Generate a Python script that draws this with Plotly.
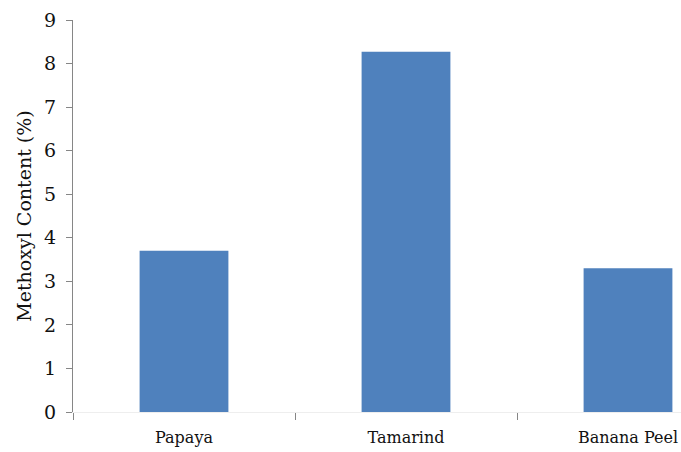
import plotly.graph_objects as go

# Methoxyl content of pectin by source
sources = ["Papaya", "Tamarind", "Banana Peel"]
methoxyl_pct = [3.70, 8.27, 3.30]
y_ticks = [0, 1, 2, 3, 4, 5, 6, 7, 8, 9]

serif = "DejaVu Serif"
axis_grey = "#868686"

fig = go.Figure(
    go.Bar(
        x=sources,
        y=methoxyl_pct,
        marker=dict(color="#4F81BD", line=dict(width=0)),
        width=0.4,
    )
)

fig.update_layout(
    width=681,
    height=452,
    margin=dict(l=73, r=0, t=20, b=40, autoexpand=False),
    paper_bgcolor="white",
    plot_bgcolor="white",
    showlegend=False,
    font=dict(family=serif, color="#111111"),
)

fig.update_xaxes(
    type="category",
    range=[-0.5, -0.5 + 608 / 222],
    tickson="boundaries",
    ticks="outside",
    ticklen=7,
    tickwidth=1,
    tickcolor=axis_grey,
    showline=True,
    linecolor="#eeeeee",
    linewidth=1,
    showgrid=False,
    zeroline=False,
    tickfont=dict(family=serif, size=16, color="#111111"),
    ticklabelstandoff=11,
)

fig.update_yaxes(
    range=[0, 9],
    tickvals=y_ticks,
    ticktext=[str(v) for v in y_ticks],
    ticks="outside",
    ticklen=6,
    tickwidth=1,
    tickcolor=axis_grey,
    showline=True,
    linecolor=axis_grey,
    linewidth=1,
    showgrid=False,
    zeroline=False,
    tickfont=dict(family=serif, size=19, color="#111111"),
    ticklabelstandoff=6,
    title=dict(
        text="Methoxyl Content (%)",
        font=dict(family=serif, size=19, color="#111111"),
        standoff=7,
    ),
)

fig.write_html("out.html")
